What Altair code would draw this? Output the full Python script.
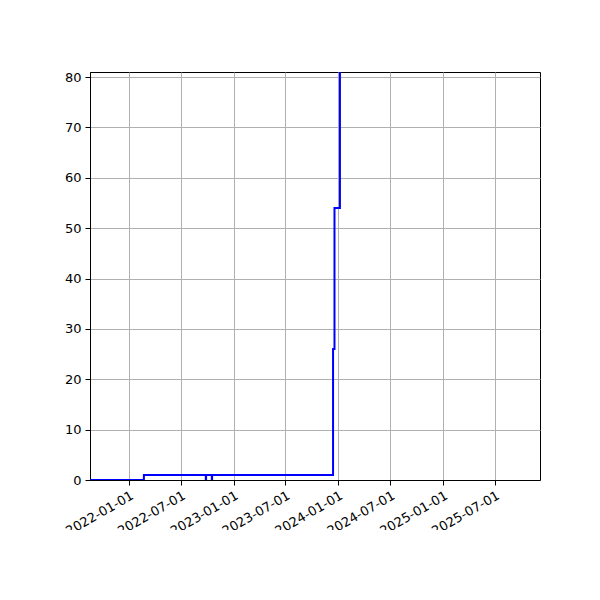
import pandas as pd
import altair as alt

# Verdier lest av figuren (trappekurve)
dates = ["2021-08-18", "2022-02-22", "2022-09-26", "2022-09-27", "2022-10-17",
         "2022-10-18", "2023-12-14", "2023-12-19", "2024-01-07"]
counts = [0, 1, 0, 1, 0, 1, 26, 54, 100]

x_ticks = ["2022-01-01", "2022-07-01", "2023-01-01", "2023-07-01",
           "2024-01-01", "2024-07-01", "2025-01-01", "2025-07-01"]
y_ticks = [0, 10, 20, 30, 40, 50, 60, 70, 80]

df = pd.DataFrame({"date": dates, "count": counts})


def utc_dt(s):
    y, m, d = (int(p) for p in s.split("-"))
    return alt.DateTime(year=y, month=m, date=d, utc=True)


chart = alt.Chart(df).mark_line(
    interpolate="step-after", color="blue", strokeWidth=2, clip=True
).encode(
    x=alt.X("date:T", title=None,
            scale=alt.Scale(type="utc", domain=[utc_dt("2021-08-18"), utc_dt("2025-12-05")]),
            axis=alt.Axis(values=[utc_dt(t) for t in x_ticks], format="%Y-%m-%d",
                          labelAngle=330, labelAlign="right", labelBaseline="top",
                          labelPadding=4)),
    y=alt.Y("count:Q", title=None,
            scale=alt.Scale(domain=[0, 81], nice=False),
            axis=alt.Axis(values=y_ticks, labelPadding=4)),
).properties(
    width=450,
    height=408,
    background="white",
    autosize=alt.AutoSizeParams(type="none"),
    padding={"left": 82, "top": 64, "right": 50, "bottom": 50},
).configure_view(
    stroke="black", strokeWidth=1
).configure_axis(
    grid=True, gridColor="#b0b0b0", gridWidth=1,
    domainColor="black", domainWidth=1,
    tickColor="black", tickSize=5, tickWidth=1,
    labelFont="DejaVu Sans", labelFontSize=13, labelColor="black",
    labelFlush=False, labelOverlap=False
)

chart.save("out.html", embed_options={"renderer": "svg", "actions": False})
